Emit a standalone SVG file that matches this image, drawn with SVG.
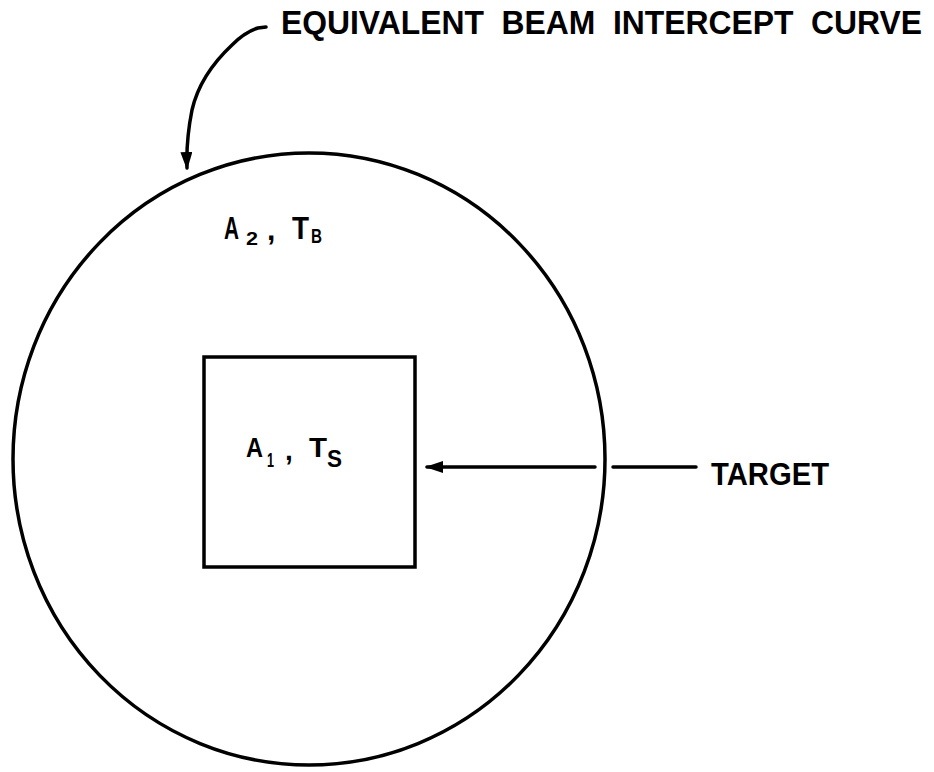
<svg xmlns="http://www.w3.org/2000/svg" width="934" height="772" viewBox="0 0 934 772">
<style>
.ln{fill:none;stroke:#000;stroke-width:3.5;stroke-linecap:round}
.t{font-family:"Liberation Sans",Arial,sans-serif;font-weight:bold;fill:#000}
</style>
<defs>
<marker id="ah2" markerWidth="18" markerHeight="12" refX="16" refY="6" orient="auto" markerUnits="userSpaceOnUse" viewBox="0 0 18 12">
<path d="M0,0 L18,6 L0,12 Z" fill="#000"/>
</marker>
</defs>
<rect width="934" height="772" fill="#fff"/>
<g id="curve">
<ellipse class="ln" cx="309" cy="459" rx="296" ry="306"/>
<g id="label-a2">
<text class="t" x="224" y="239" font-size="32" textLength="15" lengthAdjust="spacingAndGlyphs">A</text>
<text class="t" x="246" y="245" font-size="18" textLength="12" lengthAdjust="spacingAndGlyphs">2</text>
<text class="t" x="267" y="240" font-size="30">,</text>
<text class="t" x="292" y="239" font-size="32" textLength="17" lengthAdjust="spacingAndGlyphs">T</text>
<text class="t" x="311" y="243" font-size="20" textLength="11" lengthAdjust="spacingAndGlyphs">B</text>
</g>
</g>
<g id="target">
<rect class="ln" x="204" y="357" width="211" height="210"/>
<g id="label-a1">
<text class="t" x="246" y="457" font-size="27" textLength="17" lengthAdjust="spacingAndGlyphs">A</text>
<text class="t" x="267" y="467" font-size="20" textLength="7" lengthAdjust="spacingAndGlyphs">1</text>
<text class="t" x="285" y="460" font-size="28">,</text>
<text class="t" x="309" y="457" font-size="27" textLength="18" lengthAdjust="spacingAndGlyphs">T</text>
<text class="t" x="327" y="467" font-size="24" textLength="15" lengthAdjust="spacingAndGlyphs">S</text>
</g>
</g>
<g id="labels">
<text class="t" transform="translate(281,34) scale(1,1.08)" x="0" y="0" font-size="31" textLength="641" lengthAdjust="spacingAndGlyphs" xml:space="preserve">EQUIVALENT  BEAM  INTERCEPT  CURVE</text>
<text class="t" x="711" y="485" font-size="32" textLength="118" lengthAdjust="spacingAndGlyphs">TARGET</text>
</g>
<g id="connectors">
<path class="ln" d="M266,27 L258,28 Q245,32 232,45 Q200,75 192,110 Q186,140 187,168" marker-end="url(#ah2)"/>
<line class="ln" x1="595" y1="467" x2="427" y2="467" marker-end="url(#ah2)"/>
<line class="ln" x1="613" y1="467" x2="696" y2="467"/>
</g>
</svg>
